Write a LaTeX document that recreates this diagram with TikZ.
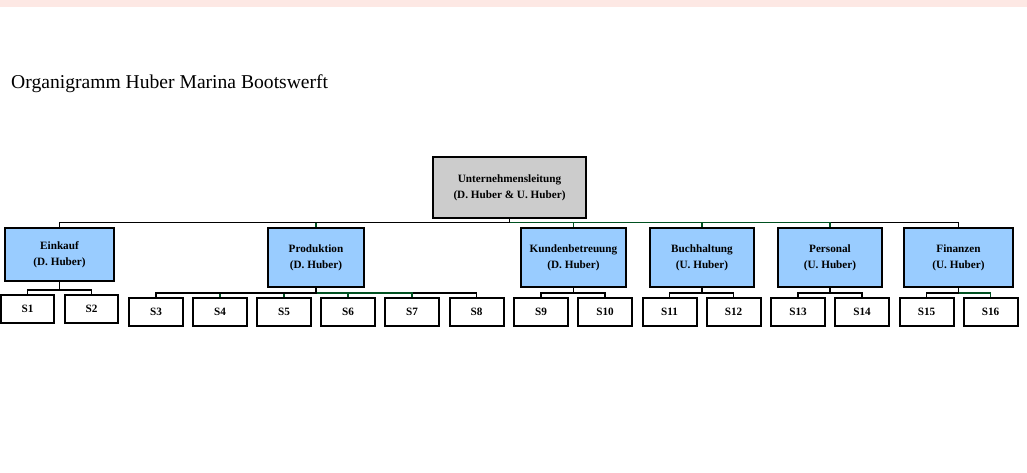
\documentclass[tikz,border=0pt]{standalone}
\usepackage{fontspec}
\setmainfont{Liberation Serif}
\usetikzlibrary{positioning}
\definecolor{bandcolor}{RGB}{253,232,228}
\definecolor{deptcolor}{RGB}{153,204,255}
\definecolor{headcolor}{RGB}{204,204,204}
\definecolor{linkgreen}{RGB}{0,80,32}

\begin{document}
\begin{tikzpicture}[x=0.75pt, y=-0.75pt,
    box/.style={draw, line width=1.5pt, align=center, inner sep=0pt, font=\fontsize{8.4}{12}\selectfont\bfseries},
    head/.style={box, fill=headcolor, minimum width=114.75pt, minimum height=45.75pt},
    dept/.style={box, fill=deptcolor, minimum width=78pt, minimum height=44.25pt},
    sub/.style={box, fill=white, minimum width=40.5pt, minimum height=21pt},
    link/.style={line width=1.35pt, black},
    glink/.style={line width=0.9pt, linkgreen}]
    % Rahmen
    \useasboundingbox (0,0) rectangle (1027,473);
    \fill[bandcolor] (0,0) rectangle (1027,7);

    % Titel
    \node[anchor=base west, font=\fontsize{14.7}{17}\selectfont] (title) at (6.5,89) {Organigramm Huber Marina Bootswerft};

    % === Leitung ===
    \node[head] (ul) at (509.5,187.5) {Unternehmensleitung\\(D. Huber \& U. Huber)};

    % === Abteilungen ===
    \node[dept, minimum width=81.75pt, minimum height=39.75pt] (ek) at (59.5,254.5) {Einkauf\\(D. Huber)};
    \node[dept, minimum width=72pt] (pr) at (316,257.5) {Produktion\\(D. Huber)};
    \node[dept, minimum width=78.75pt] (kb) at (573.5,257.5) {Kundenbetreuung\\(D. Huber)};
    \node[dept] (bh) at (702,257.5) {Buchhaltung\\(U. Huber)};
    \node[dept] (ps) at (830,257.5) {Personal\\(U. Huber)};
    \node[dept, minimum width=81.75pt] (fi) at (958.5,257.5) {Finanzen\\(U. Huber)};

    % === Stellen ===
    \node[sub, minimum width=39.75pt] (s1) at (27.5,309) {S1};
    \node[sub, minimum width=39.75pt] (s2) at (91.5,309) {S2};
    \node[sub] (s3) at (156,312) {S3};
    \node[sub] (s4) at (220,312) {S4};
    \node[sub] (s5) at (284,312) {S5};
    \node[sub] (s6) at (348,312) {S6};
    \node[sub] (s7) at (412,312) {S7};
    \node[sub] (s8) at (476.5,312) {S8};
    \node[sub] (s9) at (541,312) {S9};
    \node[sub] (s10) at (605,312) {S10};
    \node[sub] (s11) at (669.5,312) {S11};
    \node[sub] (s12) at (733.5,312) {S12};
    \node[sub] (s13) at (798,312) {S13};
    \node[sub] (s14) at (862,312) {S14};
    \node[sub] (s15) at (926.5,312) {S15};
    \node[sub] (s16) at (990.5,312) {S16};

    % Verbindungen Leitung -> Abteilungen
    \draw[link] (ul.south) -- ++(0,3.5) -| (fi.north);
    \draw[glink] (ul.south) -- ++(0,3.5) -| (pr.north);
    \draw[glink] (ul.south) -- ++(0,3.5) -| (kb.north);
    \draw[glink] (ul.south) -- ++(0,3.5) -| (bh.north);
    \draw[glink] (ul.south) -- ++(0,3.5) -| (ps.north);
    \draw[link] (ul.south) -- ++(0,3.5) -| (ek.north);

    % Verbindungen Abteilungen -> Stellen
    \draw[link] (ek.south) -- ++(0,8) -| (s1.north);
    \draw[link] (ek.south) -- ++(0,8) -| (s2.north);

    \draw[link] (pr.south) -- ++(0,5) -| (s8.north);
    \draw[glink] (pr.south) -- ++(0,5) -| (s4.north);
    \draw[glink] (pr.south) -- ++(0,5) -| (s5.north);
    \draw[glink] (pr.south) -- ++(0,5) -| (s6.north);
    \draw[glink] (pr.south) -- ++(0,5) -| (s7.north);
    \draw[link] (pr.south) -- ++(0,5) -| (s3.north);

    \draw[link] (kb.south) -- ++(0,5) -| (s9.north);
    \draw[link] (kb.south) -- ++(0,5) -| (s10.north);

    \draw[link] (bh.south) -- ++(0,5) -| (s11.north);
    \draw[link] (bh.south) -- ++(0,5) -| (s12.north);

    \draw[link] (ps.south) -- ++(0,5) -| (s13.north);
    \draw[link] (ps.south) -- ++(0,5) -| (s14.north);

    \draw[glink] (fi.south) -- ++(0,5) -| (s16.north);
    \draw[link] (fi.south) -- ++(0,5) -| (s15.north);
\end{tikzpicture}
\end{document}
